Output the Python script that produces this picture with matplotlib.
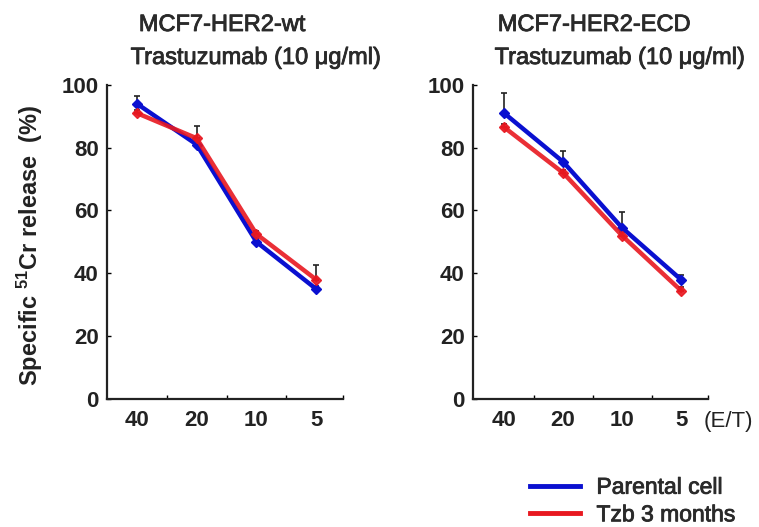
import matplotlib
matplotlib.use('Agg')
import matplotlib.pyplot as plt
import matplotlib.patheffects as pe
from matplotlib.lines import Line2D

plt.rcParams['font.family'] = ['Liberation Sans', 'DejaVu Sans']
plt.rcParams['mathtext.default'] = 'regular'

# E/T ratios and values
ratios = ['40', '20', '10', '5']

wt_parental = [94, 81, 50, 35]
wt_parental_err = [2.5, 1.0, 1.0, 1.0]
wt_tzb = [91, 83, 52.5, 38]
wt_tzb_err = [1.0, 4.0, 1.0, 4.5]

ecd_parental = [91, 75.5, 54.5, 38]
ecd_parental_err = [6.5, 3.5, 5.0, 1.5]
ecd_tzb = [86.5, 72, 52, 34.5]
ecd_tzb_err = [1.0, 1.0, 1.0, 1.0]

blue = '#0a10d0'
red = '#e81820'
semi_bold = [pe.withStroke(linewidth=0.6, foreground='#2a2a2a')]

fig = plt.figure(figsize=(7.59, 5.27), dpi=100)

panels = [
    ([0.141, 0.243, 0.311, 0.596], (-0.5, 3.45),
     wt_parental, wt_parental_err, wt_tzb, wt_tzb_err),
    ([0.623, 0.243, 0.310, 0.596], (-0.53, 3.46),
     ecd_parental, ecd_parental_err, ecd_tzb, ecd_tzb_err),
]

x = list(range(len(ratios)))
for rect, xlim, par, par_err, tzb, tzb_err in panels:
    ax = fig.add_axes(rect)
    zeros = [0] * len(x)
    ax.errorbar(x, par, yerr=[zeros, par_err], fmt='none', ecolor='#222222',
                elinewidth=1.2, capsize=2.5, capthick=1.2, zorder=1)
    ax.errorbar(x, tzb, yerr=[zeros, tzb_err], fmt='none', ecolor='#222222',
                elinewidth=1.2, capsize=2.5, capthick=1.2, zorder=1)
    ax.plot(x, par, color=blue, lw=3.2, marker='D', ms=5, zorder=3)
    ax.plot(x, tzb, color=red, lw=3.2, marker='D', ms=5, zorder=4, alpha=0.9)

    ax.set_xlim(*xlim)
    ax.set_ylim(0, 100)
    ax.spines['top'].set_visible(False)
    ax.spines['right'].set_visible(False)
    for s in ['left', 'bottom']:
        ax.spines[s].set_linewidth(1.6)
        ax.spines[s].set_color('#222222')

    ax.set_yticks([0, 20, 40, 60, 80, 100])
    ax.tick_params(axis='y', direction='in', length=3, width=1, pad=6,
                   labelsize=16)
    ax.set_xticks(x)
    ax.set_xticklabels(ratios)
    ax.set_xticks([0.5, 1.5, 2.5, xlim[1]], minor=True)
    ax.tick_params(axis='x', which='major', length=0, pad=8, labelsize=16)
    ax.tick_params(axis='x', which='minor', direction='in', length=3, width=1)
    for lab in ax.get_xticklabels() + ax.get_yticklabels():
        lab.set_fontweight('bold')
        lab.set_color('#222222')

# titles
title_kw = dict(ha='center', va='center', fontsize=17, color='#2a2a2a',
                path_effects=semi_bold)
fig.text(222 / 759, 1 - 25 / 527, 'MCF7-HER2-wt', **title_kw)
fig.text(256 / 759, 1 - 58 / 527, 'Trastuzumab (10 \u03bcg/ml)', **title_kw)
fig.text(594 / 759, 1 - 25 / 527, 'MCF7-HER2-ECD', **title_kw)
fig.text(620 / 759, 1 - 58 / 527, 'Trastuzumab (10 \u03bcg/ml)', **title_kw)

fig.text(30 / 759, 1 - 245 / 527, r'Specific $^{51}$Cr release  (%)',
         rotation=90, ha='center', va='center', fontsize=17,
         fontweight='bold', color='#222222')
fig.text(728 / 759, 1 - 421 / 527, '(E/T)', ha='center', va='center',
         fontsize=16, color='#222222')

handles = [Line2D([], [], color=blue, lw=3.5),
           Line2D([], [], color=red, lw=3.5)]
leg = fig.legend(handles, ['Parental cell', 'Tzb 3 months'],
                 loc='center left', bbox_to_anchor=(530 / 759, 1 - 501 / 527),
                 frameon=False, fontsize=16.5, handlelength=2.2,
                 handletextpad=0.7, labelspacing=0.2, borderpad=0,
                 borderaxespad=0)
for t in leg.get_texts():
    t.set_color('#2a2a2a')
    t.set_path_effects(semi_bold)

fig.savefig('out.png', dpi=100)
